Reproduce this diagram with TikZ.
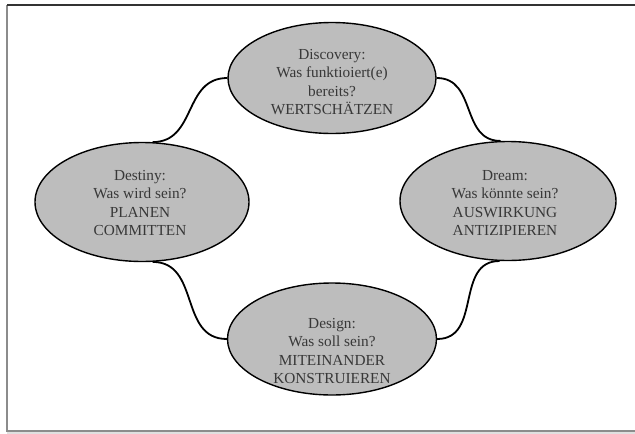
\documentclass[tikz,border=0pt]{standalone}
\usepackage{fontspec}
\setmainfont{Liberation Serif}
\usetikzlibrary{shapes.geometric}
\begin{document}
\begin{tikzpicture}[x=1pt,y=-1pt,
  phase/.style={ellipse,draw=black,line width=1.4pt,fill=black!26,inner sep=0pt},
  lbl/.style={align=center,text=black!78,font=\fontsize{15.3}{18.4}\selectfont},
  link/.style={line width=1.8pt,black,looseness=1.15}]
\useasboundingbox (0,0) rectangle (635,434);
% frame
\fill[black!12] (7,431) rectangle (635,434);
\draw[black!45,line width=1.6pt] (7,5) -- (7,431) -- (635,431);
\draw[black!80,line width=1.3pt] (7,5) -- (635,5);
% ellipses
\node[phase,minimum width=208,minimum height=111] (discovery) at (332,78) {};
\node[phase,minimum width=214,minimum height=119] (destiny) at (142,202) {};
\node[phase,minimum width=216,minimum height=119] (dream) at (508,201) {};
\node[phase,minimum width=209,minimum height=112] (design) at (332,339) {};
% labels
\node[lbl] (tdiscovery) at (332,82) {Discovery:\\Was funktioiert(e)\\bereits?\\WERTSCHÄTZEN};
\node[lbl] (tdestiny) at (140,203) {Destiny:\\Was wird sein?\\PLANEN\\COMMITTEN};
\node[lbl] (tdream) at (505,203) {Dream:\\Was könnte sein?\\AUSWIRKUNG\\ANTIZIPIEREN};
\node[lbl] (tdesign) at (332,351) {Design:\\Was soll sein?\\MITEINANDER\\KONSTRUIEREN};
% connectors
\draw[link] (discovery.west) to[out=180,in=0] (destiny.80);
\draw[link] (discovery.east) to[out=0,in=180] (dream.97);
\draw[link] (destiny.-80) to[out=0,in=180] (design.west);
\draw[link] (dream.-98) to[out=180,in=0] (design.east);
\end{tikzpicture}
\end{document}
